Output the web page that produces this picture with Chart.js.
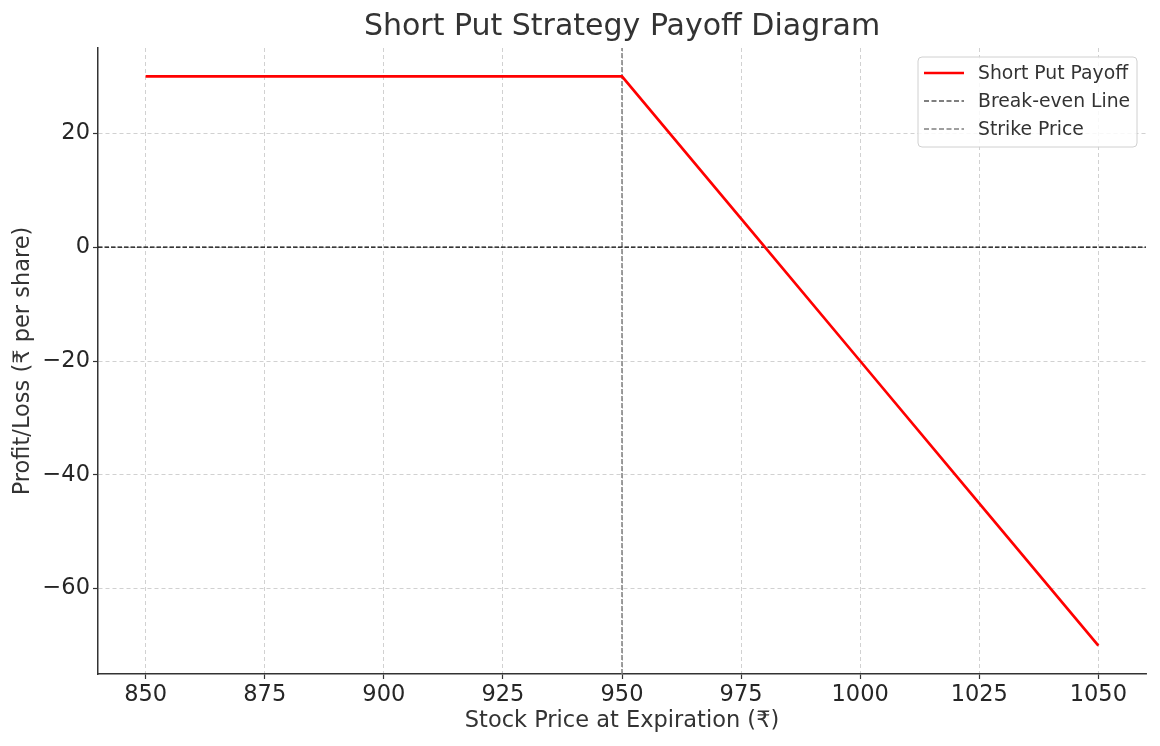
<!DOCTYPE html>
<html>
<head>
<meta charset="utf-8">
<script src="https://cdn.jsdelivr.net/npm/chart.js@4/dist/chart.umd.min.js"></script>
<style>
html,body{margin:0;padding:0;background:#fff;}
canvas{display:block;}
</style>
</head>
<body>
<canvas id="c" width="1160" height="746"></canvas>
<script>
// ---- data ----
const stockPrices = [850, 875, 900, 925, 950, 975, 1000, 1025, 1050];
const payoff = [30, 30, 30, 30, 30, 5, -20, -45, -70];
const strikePrice = 950;
const breakEvenValue = 0;
const xRange = [840, 1060];
const yRange = [-75, 35];
const xTickValues = [850, 875, 900, 925, 950, 975, 1000, 1025, 1050];
const yTickValues = [-60, -40, -20, 0, 20];
const titleText = 'Short Put Strategy Payoff Diagram';
const xLabel = 'Stock Price at Expiration (₹)';
const yLabel = 'Profit/Loss (₹ per share)';
const seriesLabels = ['Short Put Payoff', 'Break-even Line', 'Strike Price'];

const FONT = '"DejaVu Sans", "Noto Sans", sans-serif';
const TEXT = '#333333';
const TICKTEXT = '#262626';

const payoffPoints = stockPrices.map((x, i) => ({x: x, y: payoff[i]}));
const breakEvenPoints = [{x: xRange[0], y: breakEvenValue}, {x: xRange[1], y: breakEvenValue}];
const strikePoints = [{x: strikePrice, y: yRange[0]}, {x: strikePrice, y: yRange[1]}];

const fmt = v => (v < 0 ? '\u2212' + Math.abs(v) : String(v));

const decorPlugin = {
  id: 'decor',
  afterDraw(chart) {
    const ctx = chart.ctx;
    const a = chart.chartArea;
    ctx.save();
    // title
    ctx.fillStyle = TEXT;
    ctx.font = '30px ' + FONT;
    ctx.textAlign = 'center';
    ctx.textBaseline = 'middle';
    ctx.fillText(titleText, (a.left + a.right) / 2, 27);
    // axis titles
    ctx.font = '22.5px ' + FONT;
    ctx.fillText(xLabel, (a.left + a.right) / 2, 721);
    ctx.save();
    ctx.translate(23, (a.top + a.bottom) / 2);
    ctx.rotate(-Math.PI / 2);
    ctx.fillText(yLabel, 0, 0);
    ctx.restore();
    // legend
    const bx = 918, by = 57, bw = 219, bh = 90, r = 4;
    ctx.beginPath();
    ctx.moveTo(bx + r, by);
    ctx.lineTo(bx + bw - r, by);
    ctx.quadraticCurveTo(bx + bw, by, bx + bw, by + r);
    ctx.lineTo(bx + bw, by + bh - r);
    ctx.quadraticCurveTo(bx + bw, by + bh, bx + bw - r, by + bh);
    ctx.lineTo(bx + r, by + bh);
    ctx.quadraticCurveTo(bx, by + bh, bx, by + bh - r);
    ctx.lineTo(bx, by + r);
    ctx.quadraticCurveTo(bx, by, bx + r, by);
    ctx.closePath();
    ctx.fillStyle = 'rgba(255,255,255,0.85)';
    ctx.fill();
    ctx.strokeStyle = '#d0d0d0';
    ctx.lineWidth = 1;
    ctx.stroke();
    ctx.font = '18.8px ' + FONT;
    ctx.textAlign = 'left';
    ctx.textBaseline = 'middle';
    chart.data.datasets.forEach((ds, i) => {
      const yy = 73 + i * 28;
      ctx.beginPath();
      ctx.setLineDash(ds.borderDash && ds.borderDash.length ? [5, 2.5] : []);
      ctx.strokeStyle = ds.borderColor;
      ctx.lineWidth = ds.borderWidth;
      ctx.moveTo(924, yy);
      ctx.lineTo(964, yy);
      ctx.stroke();
      ctx.setLineDash([]);
      ctx.fillStyle = TEXT;
      ctx.fillText(ds.label, 978, yy + 1);
    });
    ctx.restore();
  }
};

const gridOpts = {color: '#cccccc', lineWidth: 0.9, tickColor: '#333333', tickLength: 5, tickWidth: 1.2, tickBorderDash: []};
const borderOpts = {display: true, color: '#333333', width: 1.5, dash: [4, 3]};

new Chart(document.getElementById('c'), {
  type: 'scatter',
  data: {
    datasets: [
      {label: seriesLabels[0], data: payoffPoints, showLine: true, borderColor: '#ff0000', backgroundColor: '#ff0000', borderWidth: 2.7, pointRadius: 0, borderDash: []},
      {label: seriesLabels[1], data: breakEvenPoints, showLine: true, borderColor: '#000000', backgroundColor: '#000000', borderWidth: 1.2, pointRadius: 0, borderDash: [4.5, 2]},
      {label: seriesLabels[2], data: strikePoints, showLine: true, borderColor: '#808080', backgroundColor: '#808080', borderWidth: 1.5, pointRadius: 0, borderDash: [5, 2]}
    ]
  },
  options: {
    responsive: false,
    animation: false,
    layout: {padding: {left: 0, top: 48, right: 14, bottom: 0}},
    plugins: {legend: {display: false}, title: {display: false}, tooltip: {enabled: false}},
    scales: {
      x: {
        type: 'linear', min: xRange[0], max: xRange[1],
        afterBuildTicks: s => { s.ticks = xTickValues.map(v => ({value: v})); },
        afterFit: s => { s.height = 72; },
        ticks: {color: TICKTEXT, font: {family: FONT, size: 22.5}, padding: 3, maxRotation: 0, autoSkip: false, callback: v => fmt(v)},
        grid: gridOpts,
        border: borderOpts
      },
      y: {
        type: 'linear', min: yRange[0], max: yRange[1],
        afterBuildTicks: s => { s.ticks = yTickValues.map(v => ({value: v})); },
        afterFit: s => { s.width = 98; },
        ticks: {color: TICKTEXT, font: {family: FONT, size: 22.5}, padding: 3, autoSkip: false, callback: v => fmt(v)},
        grid: gridOpts,
        border: borderOpts
      }
    }
  },
  plugins: [decorPlugin]
});
</script>
</body>
</html>
